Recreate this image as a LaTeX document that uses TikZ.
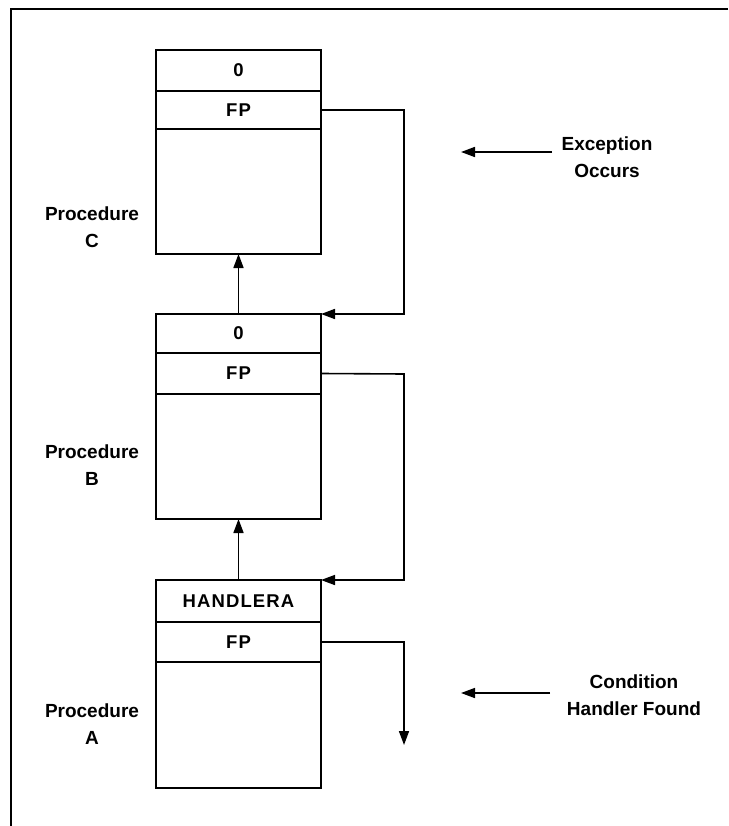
\documentclass[tikz,border=0pt]{standalone}
\usepackage{fontspec}
\setmainfont{Liberation Sans}
\newfontfamily\cellfont[LetterSpace=6]{Liberation Sans}
\usetikzlibrary{arrows.meta}
\begin{document}
\begin{tikzpicture}[x=1pt,y=-1pt,
  cell/.style={draw,line width=1.5pt,minimum width=165pt,inner sep=0pt,outer sep=0pt,
    font=\cellfont\fontsize{18.5}{22}\selectfont\bfseries},
  link/.style={line width=1.6pt,-{Triangle[length=14pt,width=10pt]}},
  lbl/.style={align=center,font=\fontsize{19}{27}\selectfont\bfseries,inner sep=0pt}]
\useasboundingbox (0,0) rectangle (728,826);
% frame
\draw[line width=1.8pt] (728,9) -- (11,9) -- (11,826);

% procedure C
\node[cell,minimum height=41pt,anchor=north] (c0) at (238.5,50) {0};
\node[cell,minimum height=38pt,anchor=north] (c1) at (c0.south) {FP};
\node[cell,minimum height=125pt,anchor=north] (c2) at (c1.south) {};
% procedure B
\node[cell,minimum height=39pt,anchor=north] (b0) at (238.5,314) {0};
\node[cell,minimum height=41pt,anchor=north] (b1) at (b0.south) {FP};
\node[cell,minimum height=125pt,anchor=north] (b2) at (b1.south) {};
% procedure A
\node[cell,minimum height=42pt,anchor=north] (a0) at (238.5,580) {HANDLERA};
\node[cell,minimum height=40pt,anchor=north] (a1) at (a0.south) {FP};
\node[cell,minimum height=126pt,anchor=north] (a2) at (a1.south) {};

% procedure names
\node[lbl] (pc) at (92,227) {Procedure\\C};
\node[lbl] (pb) at (92,465) {Procedure\\B};
\node[lbl] (pa) at (92,724) {Procedure\\A};

% frame pointer chain
\draw[link] (c1.east) -- (404,110) |- (b0.north east);
\draw[link] (b1.east) -- (404,374) |- (a0.north east);
\coordinate (aend) at (404,745);
\draw[link] (a1.east) -| (aend);

% return links
\draw[link] (b0.north) -- (c2.south);
\draw[link] (a0.north) -- (b2.south);

% event markers
\node[lbl] (exc) at (607,157) {Exception\\Occurs};
\coordinate (exs) at (552,152);
\coordinate (exe) at (461,152);
\draw[link] (exs) -- (exe);

\node[lbl] (cond) at (634,695) {Condition\\Handler Found};
\coordinate (cds) at (550,693);
\coordinate (cde) at (461,693);
\draw[link] (cds) -- (cde);
\end{tikzpicture}
\end{document}
